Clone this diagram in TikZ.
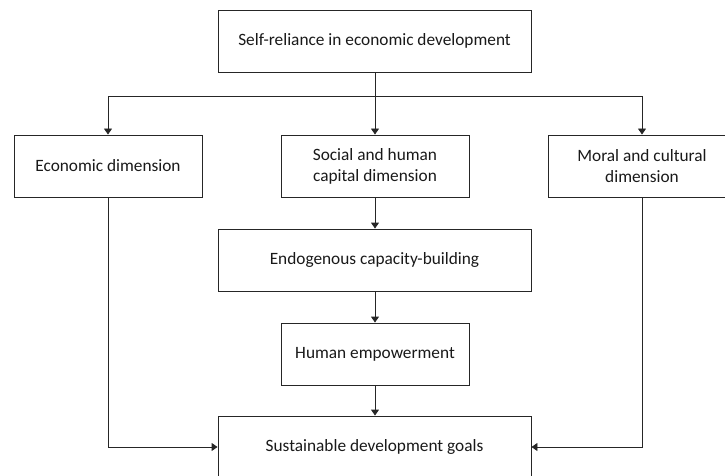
\documentclass[tikz,border=0pt]{standalone}
\usepackage{fontspec}
\setmainfont{Carlito}
\usetikzlibrary{arrows.meta}
\begin{document}
\begin{tikzpicture}[x=1pt,y=-1pt,
  box/.style={draw=black!85, line width=0.9pt, rectangle, inner sep=0pt,
    minimum height=62pt, align=center, font=\fontsize{17.3}{21}\selectfont,
    text=black!90},
  wide/.style={box, minimum width=313pt},
  narrow/.style={box, minimum width=188pt},
  arr/.style={draw=black!85, line width=0.9pt,
    -{Triangle[width=8pt,length=6pt]}},
  link/.style={draw=black!85, line width=0.9pt}]
  \useasboundingbox (0,0) rectangle (725,476);
  \clip (0,0) rectangle (725,476);

  % boxes
  \node[wide]   (top)  at (374.5,41)  {Self-reliance in economic development};
  \node[narrow] (econ) at (108,166)   {Economic dimension};
  \node[narrow] (soc)  at (375,166)   {Social and human\\capital dimension};
  \node[narrow] (mor)  at (642,166)   {Moral and cultural\\dimension};
  \node[wide]   (endo) at (374.5,260) {Endogenous capacity-building};
  \node[narrow] (hum)  at (375,354)   {Human empowerment};
  \node[wide]   (sdg)  at (374.5,447) {Sustainable development goals};

  % branching from the top box
  \coordinate (split) at (375,96);
  \draw[arr] (top.south -| soc.north) -- (soc.north);
  \draw[arr] (split) -| (econ.north);
  \draw[arr] (split) -| (mor.north);

  % central chain
  \draw[arr] (soc.south) -- (endo.north -| soc.south);
  \draw[arr] (endo.south -| hum.north) -- (hum.north);
  \draw[arr] (hum.south) -- (sdg.north -| hum.south);

  % side paths into the goals box
  \draw[arr] (econ.south) |- (sdg.west);
  \draw[arr] (mor.south) |- (sdg.east);
\end{tikzpicture}
\end{document}
